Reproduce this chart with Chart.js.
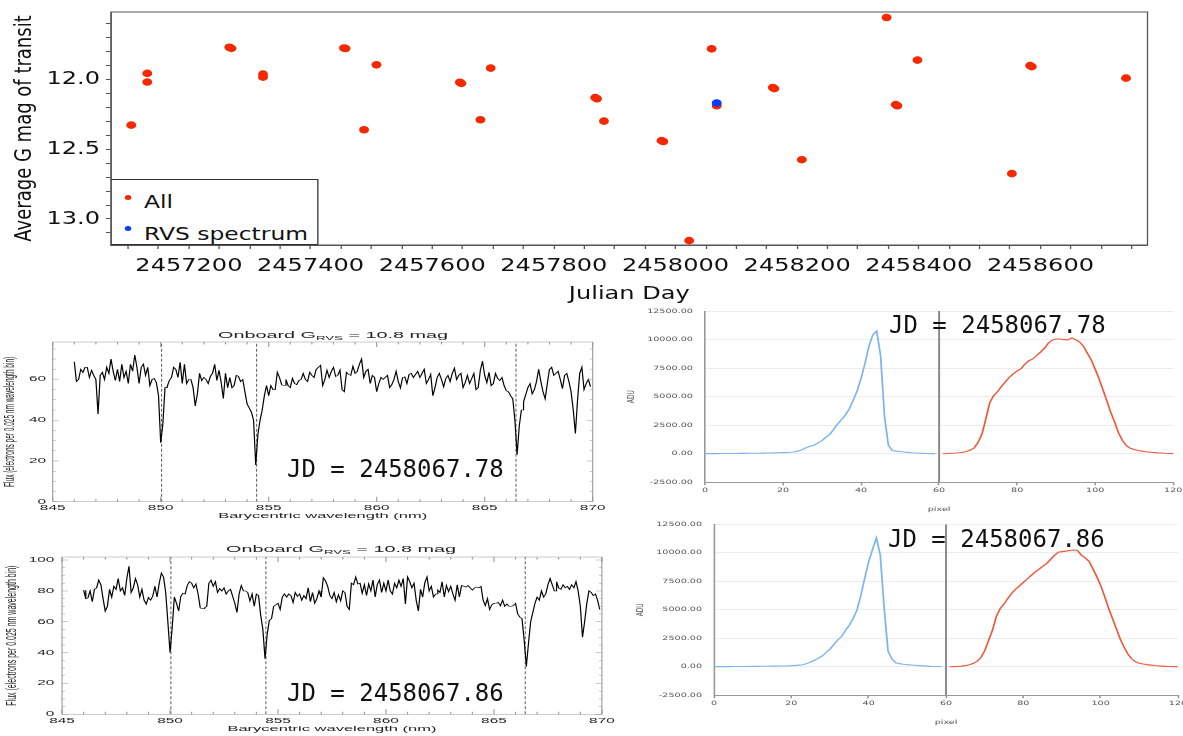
<!DOCTYPE html>
<html>
<head>
<meta charset="utf-8">
<title>Gaia transit photometry and RVS spectra</title>
<script src="https://cdn.jsdelivr.net/npm/chart.js@4.4.0/dist/chart.umd.min.js"></script>
<style>
  body { margin: 0; width: 1183px; height: 736px; background: #fff; position: relative; overflow: hidden; }
  .panel { position: absolute; }
  .panel canvas { position: absolute; left: 0; top: 0; }
  .ov { position: absolute; left: 0; top: 0; transform-origin: 0 0; }
  .gLegend { position: absolute; box-sizing: border-box; border: 1px solid #333; background: #fff; }
  .gLegend .dot { position: absolute; width: 5px; height: 5px; border-radius: 50%; }
  .gLegend .lt { position: absolute; font: 18px 'DejaVu Sans', sans-serif; line-height: 18px; white-space: nowrap; color: #111; }
  .stitle { position: absolute; font: 9px 'Liberation Sans', Arial, sans-serif; line-height: 1; white-space: nowrap; color: #222; transform: translate(-50%, -50%); }
  .stitle sub { font-size: 6px; vertical-align: -2px; }
  .jd { position: absolute; font: 24px 'DejaVu Sans Mono', monospace; line-height: 24px; white-space: nowrap; color: #111; }
</style>
</head>
<body>

<div class="panel" style="left:0;top:0">
  <canvas id="cTop" width="910" height="305"></canvas>
  <div class="ov" style="transform:scaleX(1.3)">
    <div class="gLegend" style="left:85.4px;top:179px;width:160px;height:66px">
      <span class="dot" style="left:9.5px;top:15px;background:#f52800"></span>
      <span class="lt" style="left:24.4px;top:13px">All</span>
      <span class="dot" style="left:9.5px;top:45.5px;background:#0a3cff"></span>
      <span class="lt" style="left:24.4px;top:44.5px">RVS spectrum</span>
    </div>
  </div>
</div>

<div class="panel" style="left:0;top:300px">
  <canvas id="cSpec1" width="280" height="222"></canvas>
  <div class="ov" style="transform:scaleX(2.2)">
    <div class="stitle" style="left:151.4px;top:36px">Onboard G<sub>RVS</sub> = 10.8 mag</div>
  </div>
</div>

<div class="panel" style="left:0;top:520px">
  <canvas id="cSpec2" width="280" height="216"></canvas>
  <div class="ov" style="transform:scaleX(2.2)">
    <div class="stitle" style="left:155px;top:30px">Onboard G<sub>RVS</sub> = 10.8 mag</div>
  </div>
</div>

<div class="panel" style="left:600px;top:300px">
  <canvas id="cAdu1" width="365" height="220"></canvas>
</div>

<div class="panel" style="left:600px;top:515px">
  <canvas id="cAdu2" width="365" height="221"></canvas>
</div>

<div class="jd" style="left:287px;top:457px">JD = 2458067.78</div>
<div class="jd" style="left:287px;top:681px">JD = 2458067.86</div>
<div class="jd" style="left:889px;top:313px">JD = 2458067.78</div>
<div class="jd" style="left:888px;top:527px">JD = 2458067.86</div>

<script>
// ---- transit photometry (top panel) ----
const obsJD = [2457105.3, 2457131.6, 2457131.6, 2457266.5, 2457270.0, 2457321.9, 2457321.9,
  2457455.0, 2457457.5, 2457488.0, 2457508.4, 2457645.5, 2457648.0, 2457679.3, 2457696.2,
  2457868.0, 2457871.0, 2457882.4, 2457977.0, 2457980.0, 2458022.5, 2458059.4, 2458067.8,
  2458160.0, 2458162.5, 2458207.7, 2458347.0, 2458362.0, 2458364.8, 2458397.8, 2458553.0,
  2458583.0, 2458585.8, 2458740.7];
const obsGmag = [12.329, 11.959, 12.021, 11.772, 11.780, 11.964, 11.986,
  11.777, 11.781, 12.362, 11.898, 12.022, 12.030, 12.290, 11.921,
  12.132, 12.140, 12.300, 12.440, 12.446, 13.155, 11.784, 12.190,
  12.060, 12.068, 12.576, 11.559, 12.182, 12.190, 11.864, 12.676,
  11.903, 11.911, 11.993];
const rvsJD = [2458067.8];
const rvsGmag = [12.171];

// ---- RVS spectra, 0.1 nm sampling from 846.0 nm ----
const lambdaStart = 846.0;
const lambdaStep = 0.1;
const caTriplet = [850.04, 854.44, 866.45];
const flux1 = [
  68.7, 59, 60, 65, 63.5, 66, 66, 61, 64.5, 62,
  60, 43, 62, 63.5, 60, 66, 63, 70, 64, 59.5,
  65, 59, 67.5, 61, 64, 58, 67.5, 64, 72, 66,
  58, 66, 67.5, 62, 66, 57, 60, 60.5, 58.5, 52,
  29, 38, 56, 56.5, 59.5, 61, 66, 65, 61, 68.5,
  58, 67.5, 58, 60, 60, 56, 47, 53, 63, 59.5,
  61, 60, 58, 61.5, 63, 67.5, 59.5, 64.5, 58.5, 50.7,
  63, 56, 61, 56, 57, 62, 61.5, 59, 60, 54,
  48, 46, 44, 40, 18, 33, 40, 45, 52, 57,
  52, 57, 55, 55, 63.5, 61, 57.5, 57, 60, 57,
  56, 60.5, 58, 57.5, 59.5, 60, 63, 60, 59, 63.5,
  62, 61, 65, 66, 67, 57, 60, 64.5, 61, 64,
  66, 61.5, 62, 64.6, 55, 54, 63.5, 62.5, 62, 66.5,
  63, 64, 67.5, 70, 61, 64, 65, 58, 62, 61,
  54, 58, 61, 60, 61, 62, 56, 57.5, 60, 64,
  59, 55.8, 61, 61.5, 58, 62.5, 63, 61, 62.5, 64,
  61, 63, 65, 58, 60, 62.5, 52, 56, 61, 63,
  60, 56.4, 60.5, 62, 59, 63, 65.5, 60, 62, 63,
  56, 58.5, 62, 58, 60.5, 63, 55, 56, 64.5, 69,
  62, 58.5, 63.5, 57, 58, 63, 60.5, 59.5, 61, 57,
  54.5, 54, 52, 50.5, 40, 23, 37, 45, 49, 52.5,
  56, 58, 53, 55, 59, 65, 59, 54, 50.5, 58,
  65, 66, 62, 63, 64, 60, 55.5, 62, 63, 59,
  54, 45, 33.5, 50, 63, 66, 55, 58, 60, 56.5
];
const flux2 = [
  80.5, 75, 75.5, 80, 73, 81, 82, 87, 84, 75,
  67, 70, 81, 76, 83, 81, 88, 80, 82, 77,
  88, 96, 79, 82, 88, 84, 76, 81, 74, 71.5,
  75.7, 74, 76.5, 83, 76, 85, 91.5, 89, 79, 60,
  40, 56, 76, 72, 67, 76.5, 78.5, 78, 83.5, 86,
  85, 82, 84.5, 78, 69, 68.5, 69, 70, 85, 87,
  83, 86, 79, 81.5, 80, 82, 78, 80, 81, 76.5,
  72, 66, 78, 83.5, 80, 80, 79, 73.5, 78, 70,
  78, 77, 64, 55, 36, 52, 61, 62, 70, 71,
  72, 68, 76, 78, 76, 78, 77, 72.5, 79, 76.5,
  78, 74, 77, 75, 82, 73, 79, 72, 75, 80,
  76, 88.5, 86.5, 83, 77, 75, 79, 73, 77.5, 73.6,
  80, 79, 70, 68, 85, 84, 89, 84.5, 85, 78.5,
  84, 77, 84.5, 80, 87, 76, 84.3, 87, 79, 85,
  80, 87, 80, 78, 85, 82, 87, 83, 88, 71.5,
  89, 86, 82, 85, 74, 67, 81, 76, 85.5, 89,
  80, 83, 76, 78, 80.5, 79, 86, 76, 83.5, 79.5,
  83, 78, 74, 84, 76, 83.5, 83, 82.5, 83.5, 82,
  80.5, 82, 82.5, 82, 83, 74, 70.5, 75, 68, 71,
  72, 72, 72.5, 70.4, 74, 70, 71.5, 70, 70, 70.5,
  72, 65, 63, 62, 48, 31, 46, 60, 66, 72,
  76, 74, 80, 76, 78, 84, 88, 84, 80, 86,
  82, 81, 84, 82, 83, 81, 84, 82, 86, 80,
  70, 50, 60, 72, 80, 79, 77, 78, 74, 68
];
const wavelengths = flux1.map((_, i) => +(lambdaStart + i * lambdaStep).toFixed(2));

// ---- window profiles (ADU per pixel) ----
const pixelsBlue = Array.from({ length: 60 }, (_, i) => i);
const pixelsRed = Array.from({ length: 60 }, (_, i) => i + 61);
const windowSplit = 60;
const adu1Blue = [10, 12, 14, 15, 18, 20, 22, 25, 28, 30,
  35, 38, 42, 45, 50, 55, 60, 65, 75, 85,
  100, 115, 135, 180, 250, 370, 540, 650, 750, 950,
  1150, 1450, 1700, 2150, 2600, 3000, 3400, 3950, 4700, 5500,
  6600, 7900, 9400, 10400, 10750, 8600, 3300, 750, 280, 230,
  200, 160, 120, 90, 70, 50, 35, 25, 15, 10];
const adu1Red = [0, 20, 40, 60, 90, 130, 200, 320, 520, 1000,
  1750, 3100, 4500, 5100, 5450, 5900, 6300, 6700, 7000, 7250,
  7450, 7850, 8150, 8300, 8600, 8900, 9250, 9700, 9950, 10050,
  10050, 9990, 9960, 10150, 10000, 9780, 9400, 8800, 8200, 7400,
  6550, 5600, 4600, 3600, 2750, 1800, 1150, 700, 480, 370,
  290, 230, 180, 140, 110, 80, 60, 40, 25, 10];
const adu2Blue = [10, 12, 14, 15, 18, 20, 22, 25, 28, 30,
  35, 38, 42, 45, 50, 55, 60, 65, 75, 85,
  100, 120, 150, 180, 280, 420, 580, 740, 950, 1250,
  1550, 1950, 2350, 2650, 3200, 3650, 4250, 5000, 6300, 7800,
  9200, 10300, 11300, 9800, 5200, 1400, 700, 350, 280, 230,
  190, 160, 130, 100, 80, 60, 40, 30, 20, 10];
const adu2Red = [0, 15, 30, 60, 100, 170, 280, 480, 800, 1400,
  2300, 3200, 4400, 5100, 5500, 6000, 6450, 6800, 7100, 7400,
  7700, 8000, 8300, 8550, 8800, 9050, 9400, 9750, 10050, 10100,
  10150, 10200, 10250, 10200, 9800, 9550, 9250, 8600, 7900, 7150,
  6200, 5200, 4300, 3400, 2500, 1750, 1150, 700, 450, 320,
  240, 190, 150, 110, 80, 60, 40, 25, 15, 5];

Chart.defaults.animation = false;
Chart.defaults.events = [];
Chart.defaults.font.family = "'DejaVu Sans', sans-serif";
Chart.defaults.plugins.legend.display = false;
Chart.defaults.plugins.tooltip.enabled = false;

// fix axis thickness so the plot area lands where it should
function fixWidth(w) {
  return function (scale) {
    scale.width = w;
    scale.paddingTop = scale.paddingBottom = scale.paddingLeft = scale.paddingRight = 0;
  };
}
function fixHeight(h) {
  return function (scale) {
    scale.height = h;
    scale.paddingTop = scale.paddingBottom = scale.paddingLeft = scale.paddingRight = 0;
  };
}
function pts(xs, ys) {
  return xs.map((x, i) => ({ x: x, y: ys[i] }));
}

// the source panels are widened horizontally; redraw the laid-out chart onto a wider canvas
function stretchX(chart, k) {
  const c = chart.canvas;
  const w = Math.round(chart.width * k);
  c.width = w;
  c.style.width = w + 'px';
  chart.ctx.setTransform(k, 0, 0, 1, 0, 0);
  chart.draw();
}

const framePlugin = {
  id: 'frame',
  afterDatasetsDraw(chart, args, o) {
    const { ctx, chartArea: a } = chart;
    ctx.save();
    ctx.strokeStyle = o.color;
    ctx.lineWidth = 1;
    ctx.strokeRect(a.left, a.top, a.right - a.left, a.bottom - a.top);
    ctx.restore();
  }
};

// IDL style box with inward ticks on all four sides
const idlBox = {
  id: 'idlBox',
  afterDatasetsDraw(chart, args, o) {
    const { ctx, chartArea: a, scales: { x, y } } = chart;
    ctx.save();
    ctx.strokeStyle = o.color;
    ctx.lineWidth = 0.5;
    ctx.strokeRect(a.left, a.top, a.right - a.left, a.bottom - a.top);
    ctx.beginPath();
    for (let k = 0; x.min + k * o.xMinor <= x.max + 1e-6; k++) {
      const p = x.getPixelForValue(x.min + k * o.xMinor);
      const len = (k * o.xMinor) % o.xMajor < 1e-6 ? o.xLen : o.xLen / 2;
      ctx.moveTo(p, a.bottom); ctx.lineTo(p, a.bottom - len);
      ctx.moveTo(p, a.top); ctx.lineTo(p, a.top + len);
    }
    for (let k = 0; k * o.yMinor <= y.max + 1e-6; k++) {
      const p = y.getPixelForValue(k * o.yMinor);
      const len = (k * o.yMinor) % o.yMajor < 1e-6 ? o.yLen : o.yLen / 2;
      ctx.moveTo(a.left, p); ctx.lineTo(a.left + len, p);
      ctx.moveTo(a.right, p); ctx.lineTo(a.right - len, p);
    }
    ctx.stroke();
    ctx.restore();
  }
};

// ---- top: average G magnitude per transit ----
const topChart = new Chart(document.getElementById('cTop'), {
  type: 'scatter',
  data: {
    datasets: [
      { label: 'RVS spectrum', data: pts(rvsJD, rvsGmag), backgroundColor: '#0a3cff',
        pointRadius: 3.8, pointBorderWidth: 0, order: 1, clip: false },
      { label: 'All', data: pts(obsJD, obsGmag), backgroundColor: '#f52800',
        pointRadius: 3.8, pointBorderWidth: 0, order: 2, clip: false }
    ]
  },
  options: {
    responsive: false,
    devicePixelRatio: 1,
    layout: { padding: { left: 0, top: 12, right: 27.3, bottom: 0 } },
    scales: {
      x: {
        // span kept off a whole number of 50-day steps so ticks stay on round days
        type: 'linear', min: 2457072, max: 2458776,
        afterFit: fixHeight(60),
        grid: { drawOnChartArea: false, tickLength: 4, color: '#555' },
        border: { color: '#555' },
        ticks: {
          stepSize: 50, includeBounds: false, autoSkip: false, maxRotation: 0, padding: 5.8,
          color: '#111', font: { size: 18.5 },
          callback: v => (Math.round(v) % 200 === 0 ? String(Math.round(v)) : '')
        },
        title: { display: true, text: 'Julian Day', color: '#111', font: { size: 18.5 },
                 padding: { top: 0, bottom: 0 } }
      },
      y: {
        reverse: true, min: 11.52, max: 13.186,
        afterFit: fixWidth(85.4),
        grid: { drawOnChartArea: false, tickLength: 4, color: '#555' },
        border: { color: '#555' },
        ticks: {
          stepSize: 0.1, includeBounds: false, autoSkip: false, padding: 4.5,
          color: '#111', font: { size: 18.5 },
          callback: v => (Math.round(v * 10) % 5 === 0 ? v.toFixed(1) : '')
        },
        title: { display: true, text: 'Average G mag of transit', color: '#111', font: { size: 18 },
                 padding: { top: 8.4, bottom: 0 } }
      }
    },
    plugins: { frame: { color: '#555' } }
  },
  plugins: [framePlugin]
});
stretchX(topChart, 1.3);

// ---- RVS spectra ----
function spectrumChart(id, flux, yMax, geo) {
  const lineSets = caTriplet.map(l => ({
    data: [{ x: l, y: 0 }, { x: l, y: yMax }],
    borderColor: '#666', borderWidth: 0.5, borderDash: [3, 2], pointRadius: 0
  }));
  const chart = new Chart(document.getElementById(id), {
    type: 'line',
    data: {
      datasets: [
        { data: pts(wavelengths, flux), borderColor: '#000', borderWidth: 0.55,
          pointRadius: 0, tension: 0 }
      ].concat(lineSets)
    },
    options: {
      responsive: false,
      devicePixelRatio: 1,
      layout: { padding: { left: 0, top: geo.top, right: geo.right, bottom: 0 } },
      scales: {
        x: {
          type: 'linear', min: 845, max: 870,
          afterFit: fixHeight(geo.xh),
          grid: { display: false, drawTicks: false },
          border: { display: false },
          ticks: { stepSize: 5, padding: geo.xpad, color: '#222', maxRotation: 0,
                   font: { family: "'Liberation Sans', Arial, sans-serif", size: 7 } },
          title: { display: true, text: 'Barycentric wavelength (nm)', color: '#222',
                   font: { family: "'Liberation Sans', Arial, sans-serif", size: 7.5 },
                   padding: { top: 0, bottom: geo.xtpad } }
        },
        y: {
          min: 0, max: yMax,
          afterFit: fixWidth(geo.yw),
          grid: { display: false, drawTicks: false },
          border: { display: false },
          ticks: { stepSize: 20, includeBounds: false, padding: geo.ypad, color: '#222',
                   font: { family: "'Liberation Sans', Arial, sans-serif", size: 7 } },
          title: { display: true, text: 'Flux (electrons per 0.025 nm wavelength bin)', color: '#222',
                   font: { family: "'Liberation Sans', Arial, sans-serif", size: geo.ytsize },
                   padding: { top: geo.ytpad, bottom: 0 } }
        }
      },
      plugins: { idlBox: { color: '#999', xMinor: 1, xMajor: 5, xLen: 5, yMinor: 5, yMajor: 20, yLen: 2.7 } }
    },
    plugins: [idlBox]
  });
  stretchX(chart, 2.2);
}
spectrumChart('cSpec1', flux1, 78.4,
  { top: 42, right: 10.6, xh: 20.3, yw: 23.95, xpad: 2, xtpad: 1.5, ypad: 3, ytsize: 6.5, ytpad: 0.6 });
spectrumChart('cSpec2', flux2, 102,
  { top: 37, right: 6.4, xh: 21.7, yw: 28.2, xpad: 2.5, xtpad: 2.5, ypad: 3.5, ytsize: 7, ytpad: 1 });

// ---- window profiles ----
function aduChart(id, blue, red, geo) {
  const chart = new Chart(document.getElementById(id), {
    type: 'line',
    data: {
      datasets: [
        { data: [{ x: windowSplit, y: -2500 }, { x: windowSplit, y: 12500 }],
          borderColor: '#888', borderWidth: 1.2, pointRadius: 0 },
        { data: pts(pixelsBlue, blue), borderColor: '#7cb5ec', borderWidth: 1.1, pointRadius: 0, tension: 0 },
        { data: pts(pixelsRed, red), borderColor: '#ee5a3f', borderWidth: 1.1, pointRadius: 0, tension: 0 }
      ]
    },
    options: {
      responsive: false,
      devicePixelRatio: 1,
      layout: { padding: { left: 0, top: geo.top, right: geo.right, bottom: 0 } },
      scales: {
        x: {
          type: 'linear', min: 0, max: 120,
          afterFit: fixHeight(geo.xh),
          grid: { drawOnChartArea: false, tickLength: 3, color: '#999' },
          border: { color: '#999' },
          ticks: { stepSize: 20, padding: geo.xpad, color: '#555', maxRotation: 0, font: { size: 6 } },
          title: { display: true, text: 'pixel', color: '#555', font: { size: 6 },
                   padding: { top: 0, bottom: geo.xtpad } }
        },
        y: {
          min: -2500, max: 12500,
          afterFit: fixWidth(geo.yw),
          grid: { color: '#ececec', drawTicks: false },
          border: { color: '#999' },
          ticks: { stepSize: 2500, padding: 7.5, color: '#555', font: { size: 6 },
                   callback: v => v.toFixed(2) },
          title: { display: true, text: 'ADU', color: '#555', font: { size: 6 },
                   padding: { top: geo.ytpad, bottom: 0 } }
        }
      }
    }
  });
  stretchX(chart, 1.6);
}
aduChart('cAdu1', adu1Blue, adu1Red,
  { top: 11, right: 6.7, xh: 37.7, yw: 65.6, xpad: 1.8, xtpad: 7.4, ytpad: 16.15 });
aduChart('cAdu2', adu2Blue, adu2Red,
  { top: 9.3, right: 3.75, xh: 40.7, yw: 71.25, xpad: 1.4, xtpad: 10.1, ytpad: 21.4 });
</script>
</body>
</html>
